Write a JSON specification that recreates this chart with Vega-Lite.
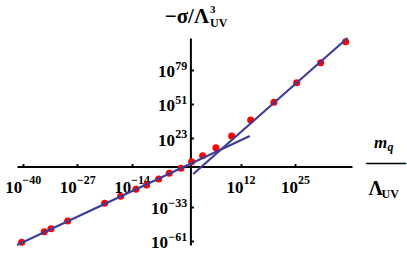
{
  "$schema": "https://vega.github.io/schema/vega-lite/v6.json",
  "width": 335,
  "height": 207,
  "autosize": {"type": "none"},
  "padding": {"left": 17, "top": 38, "right": 55, "bottom": 10},
  "config": {
    "view": {"stroke": null},
    "axis": {
      "grid": false,
      "titleFont": "Liberation Serif",
      "labelFont": "Liberation Serif",
      "titleFontWeight": "bold",
      "labelFontWeight": "bold",
      "titleColor": "black",
      "labelColor": "black",
      "domainColor": "black",
      "tickColor": "black",
      "labelFlush": false,
      "labelOverlap": false,
      "labelBound": false
    }
  },
  "title": {
    "text": "3",
    "subtitle": "UV",
    "anchor": "start",
    "frame": "group",
    "orient": "top",
    "dx": 193,
    "offset": -24,
    "font": "Liberation Serif",
    "fontSize": 11,
    "fontWeight": "bold",
    "color": "black",
    "subtitleFont": "Liberation Serif",
    "subtitleFontSize": 12,
    "subtitleFontWeight": "bold",
    "subtitleColor": "black",
    "subtitlePadding": 3
  },
  "resolve": {"axis": {"x": "independent", "y": "independent"}},
  "layer": [
    {
      "data": {
        "values": [
          {"x": 5.13e-41, "y": 1.58e-62},
          {"x": 1.29e-35, "y": 7.08e-54},
          {"x": 5.13e-34, "y": 2.0e-51},
          {"x": 5.01e-30, "y": 3.89e-45},
          {"x": 3.39e-21, "y": 1.10e-30},
          {"x": 2.29e-17, "y": 5.62e-25},
          {"x": 1.02e-13, "y": 2.95e-19},
          {"x": 3.63e-11, "y": 9.55e-16},
          {"x": 2.69e-8, "y": 7.59e-11},
          {"x": 9.12e-6, "y": 3.39e-6},
          {"x": 5.75e-3, "y": 4.07e-2},
          {"x": 2.04, "y": 1e4},
          {"x": 871, "y": 7.94e8},
          {"x": 1.29e6, "y": 2.69e15},
          {"x": 7.24e9, "y": 9.55e24},
          {"x": 2.51e14, "y": 1.10e38},
          {"x": 9.12e19, "y": 3.09e52},
          {"x": 2.45e25, "y": 3.16e68},
          {"x": 1.32e31, "y": 6.61e84},
          {"x": 1.23e37, "y": 9.33e101}
        ]
      },
      "mark": {"type": "circle", "size": 50, "opacity": 1, "color": "#ff0000"},
      "encoding": {
        "x": {
          "field": "x",
          "type": "quantitative",
          "scale": {"type": "log", "domain": [3.98e-42, 3.98e38], "nice": false},
          "axis": {
            "orient": "bottom",
            "offset": -78.4,
            "values": [1e-40, 1e-27, 1e-14, 1e12, 1e25],
            "domain": true,
            "domainWidth": 2,
            "ticks": false,
            "labelExpr": "'10'",
            "labelFontSize": 17,
            "labelAlign": "right",
            "labelBaseline": "alphabetic",
            "labelPadding": 25.4,
            "labelOffset": {"condition": {"test": "datum.value < 1", "value": -1}, "value": 2.5},
            "title": "m",
            "titleFontStyle": "italic",
            "titleFontSize": 17,
            "titleX": 363,
            "titleY": -19.6,
            "titleAlign": "center",
            "titleBaseline": "alphabetic"
          }
        },
        "y": {
          "field": "y",
          "type": "quantitative",
          "scale": {"type": "log", "domain": [1e-64, 1e105], "nice": false},
          "axis": {
            "orient": "left",
            "offset": -173.4,
            "values": [1e-61, 1e-33, 1e23, 1e51, 1e79],
            "domain": true,
            "domainWidth": 2,
            "ticks": false,
            "labelExpr": "'10'",
            "labelFontSize": 17,
            "labelAlign": "right",
            "labelBaseline": "alphabetic",
            "labelOffset": 6.6,
            "labelPadding": {"condition": {"test": "datum.value < 1", "value": 23}, "value": 16},
            "title": "−σ/Λ",
            "titleAngle": 0,
            "titleAlign": "right",
            "titleBaseline": "alphabetic",
            "titleX": 18.1,
            "titleY": -16,
            "titleFontSize": 21
          }
        }
      }
    },
    {
      "data": {"values": [{"x": 3.98e-42, "y": 1e-64}, {"x": 1.55e14, "y": 9.55e24}]},
      "mark": {"type": "line", "color": "#3d3d99", "strokeWidth": 2.2},
      "encoding": {
        "x": {
          "field": "x",
          "type": "quantitative",
          "scale": {"type": "log", "domain": [3.98e-42, 3.98e38], "nice": false},
          "axis": {
            "orient": "bottom",
            "offset": -78.4,
            "values": [1e-40, 1e-27, 1e-14, 1e12, 1e25],
            "domain": false,
            "ticks": false,
            "labelExpr": "format(round(log(datum.value)/LN10),'d')",
            "labelFontSize": 12,
            "labelAlign": "left",
            "labelBaseline": "alphabetic",
            "labelPadding": 16.4,
            "labelOffset": {"condition": {"test": "datum.value < 1", "value": -1}, "value": 2.5},
            "title": "q",
            "titleFontStyle": "italic",
            "titleFontSize": 12,
            "titleX": 370,
            "titleY": -16.6,
            "titleAlign": "left",
            "titleBaseline": "alphabetic"
          }
        },
        "y": {
          "field": "y",
          "type": "quantitative",
          "scale": {"type": "log", "domain": [1e-64, 1e105], "nice": false},
          "axis": {
            "orient": "left",
            "offset": -173.4,
            "values": [1e-61, 1e-33, 1e23, 1e51, 1e79],
            "domain": false,
            "ticks": false,
            "labelExpr": "format(round(log(datum.value)/LN10),'d')",
            "labelFontSize": 12,
            "labelAlign": "right",
            "labelBaseline": "alphabetic",
            "labelPadding": 3.7,
            "labelOffset": -0.7,
            "title": "Λ",
            "titleAngle": 0,
            "titleAlign": "left",
            "titleBaseline": "alphabetic",
            "titleX": 177.6,
            "titleY": 156,
            "titleFontSize": 20
          }
        }
      }
    },
    {
      "data": {"values": [{"x": 4.9, "y": 9.1e-7}, {"x": 3.31e37, "y": 1e105}]},
      "mark": {"type": "line", "color": "#3d3d99", "strokeWidth": 2.2},
      "encoding": {
        "x": {
          "field": "x",
          "type": "quantitative",
          "scale": {"type": "log", "domain": [3.98e-42, 3.98e38], "nice": false},
          "axis": {
            "orient": "bottom",
            "offset": -78.4,
            "values": [1e-40, 1e-27, 1e-14, 1e12, 1e25],
            "domain": false,
            "labels": false,
            "ticks": true,
            "tickSize": -3,
            "tickWidth": 2,
            "title": "——",
            "titleFontSize": 20,
            "titleX": 368.5,
            "titleY": 1.6,
            "titleAlign": "center",
            "titleBaseline": "alphabetic"
          }
        },
        "y": {
          "field": "y",
          "type": "quantitative",
          "scale": {"type": "log", "domain": [1e-64, 1e105], "nice": false},
          "axis": {
            "orient": "left",
            "offset": -173.4,
            "values": [1e-61, 1e-33, 1e23, 1e51, 1e79],
            "domain": false,
            "labels": false,
            "ticks": true,
            "tickSize": -3,
            "tickWidth": 2,
            "title": "UV",
            "titleAngle": 0,
            "titleAlign": "left",
            "titleBaseline": "alphabetic",
            "titleX": 190.6,
            "titleY": 159,
            "titleFontSize": 12
          }
        }
      }
    }
  ]
}
